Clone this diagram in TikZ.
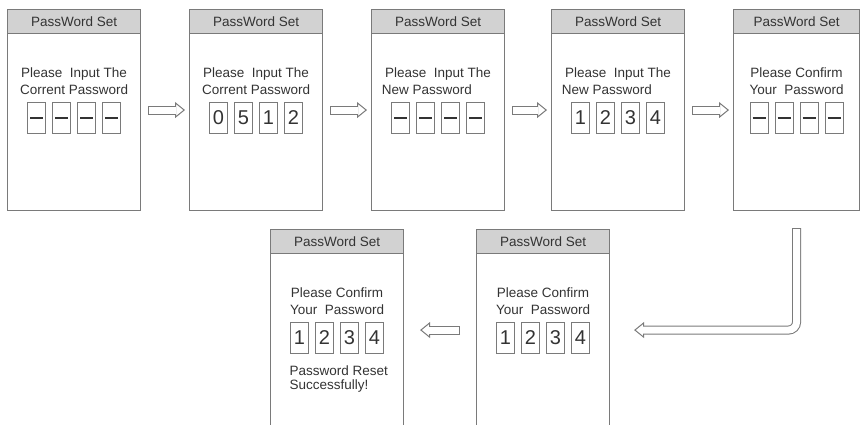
\documentclass[tikz,border=0pt]{standalone}
\usepackage{fontspec}
\setmainfont{Liberation Sans}
\usetikzlibrary{arrows.meta,positioning}
\definecolor{frame}{HTML}{7A7A7A}
\definecolor{bar}{HTML}{D2D2D2}
\definecolor{ink}{HTML}{333333}
\newcommand{\blank}{\rule{13pt}{2pt}}

\begin{document}
\begin{tikzpicture}[x=1pt,y=-1pt,
  panel/.style={draw=frame,line width=1.1pt,minimum width=133,minimum height=201,anchor=north west,inner sep=0},
  head/.style={draw=frame,line width=1.1pt,fill=bar,minimum width=133,minimum height=24,anchor=north,inner sep=0,
    text=ink,font=\fontsize{13.5}{16}\selectfont},
  msg/.style={align=center,text=ink,font=\fontsize{13.5}{16.5}\selectfont},
  digit/.style={draw=frame,line width=0.9pt,minimum width=18,minimum height=31,inner sep=0,
    text=ink,font=\fontsize{20}{20}\selectfont},
  % hollow arrow: thick grey stroke, white core on top
  flow/.style 2 args={draw=frame,line width=9pt,
    -{Triangle[open,line width=1pt,length=10pt,width=16pt]},shorten <=#1,shorten >=#2,
    postaction={draw=white,line width=7pt,-,shorten <=#1+1pt,shorten >=#2+9pt}}]
  \path[use as bounding box,clip] (0,0) rectangle (861,425);

  % top row of screens
  \node (p1) [panel] at (7,9) {};
  \node (p2) [panel] at (189,9) {};
  \node (p3) [panel] at (371,9) {};
  \node (p4) [panel] at (551,9) {};
  \node (p5) [panel,minimum width=126] at (733,9) {};
  \node (h1) [head] at (p1.north) {PassWord Set};
  \node (h2) [head] at (p2.north) {PassWord Set};
  \node (h3) [head] at (p3.north) {PassWord Set};
  \node (h4) [head] at (p4.north) {PassWord Set};
  \node (h5) [head,minimum width=126] at (p5.north) {PassWord Set};
  \node (m1) [msg] at ([yshift=-72pt]p1.north) {Please~~Input The\\Corrent Password};
  \node (m2) [msg] at ([yshift=-72pt]p2.north) {Please~~Input The\\Corrent Password};
  \node (m3) [msg] at ([yshift=-72pt]p3.north) {Please~~Input The\\New Password~~~~~~~};
  \node (m4) [msg] at ([yshift=-72pt]p4.north) {Please~~Input The\\New Password~~~~~~~};
  \node (m5) [msg] at ([yshift=-72pt]p5.north) {Please Confirm\\Your~~Password};
  \foreach \d [count=\i] in {\blank,\blank,\blank,\blank}
    \node (d1\i) [digit] at ([xshift=(\i-2.5)*25pt,yshift=-108.5pt]p1.north) {\d};
  \foreach \d [count=\i] in {0,5,1,2}
    \node (d2\i) [digit] at ([xshift=(\i-2.5)*25pt,yshift=-108.5pt]p2.north) {\d};
  \foreach \d [count=\i] in {\blank,\blank,\blank,\blank}
    \node (d3\i) [digit] at ([xshift=(\i-2.5)*25pt,yshift=-108.5pt]p3.north) {\d};
  \foreach \d [count=\i] in {1,2,3,4}
    \node (d4\i) [digit] at ([xshift=(\i-2.5)*25pt,yshift=-108.5pt]p4.north) {\d};
  \foreach \d [count=\i] in {\blank,\blank,\blank,\blank}
    \node (d5\i) [digit] at ([xshift=(\i-2.5)*25pt,yshift=-108.5pt]p5.north) {\d};

  % bottom row
  \node (p6) [panel] at (270,229) {};
  \node (p7) [panel] at (476,229) {};
  \node (h6) [head] at (p6.north) {PassWord Set};
  \node (h7) [head] at (p7.north) {PassWord Set};
  \node (m6) [msg] at ([yshift=-72pt]p6.north) {Please Confirm\\Your~~Password};
  \node (m7) [msg] at ([yshift=-72pt]p7.north) {Please Confirm\\Your~~Password};
  \foreach \d [count=\i] in {1,2,3,4}
    \node (d6\i) [digit] at ([xshift=(\i-2.5)*25pt,yshift=-108.5pt]p6.north) {\d};
  \foreach \d [count=\i] in {1,2,3,4}
    \node (d7\i) [digit] at ([xshift=(\i-2.5)*25pt,yshift=-108.5pt]p7.north) {\d};
  \node (ok) [msg,align=left,anchor=west,font=\fontsize{13.5}{14}\selectfont]
    at ([xshift=-51pt,yshift=-150pt]p6.north) {Password Reset\\Successfully!};

  \draw[flow={7pt}{4pt}] (p1.east) -- (p2.west);
  \draw[flow={7pt}{4pt}] (p2.east) -- (p3.west);
  \draw[flow={7pt}{4pt}] (p3.east) -- (p4.west);
  \draw[flow={7pt}{4pt}] (p4.east) -- (p5.west);
  \draw[flow={17pt}{24pt},rounded corners=8pt] (p5.south) |- (p7.east);
  \draw[flow={16pt}{16pt}] (p7.west) -- (p6.east);
\end{tikzpicture}
\end{document}
